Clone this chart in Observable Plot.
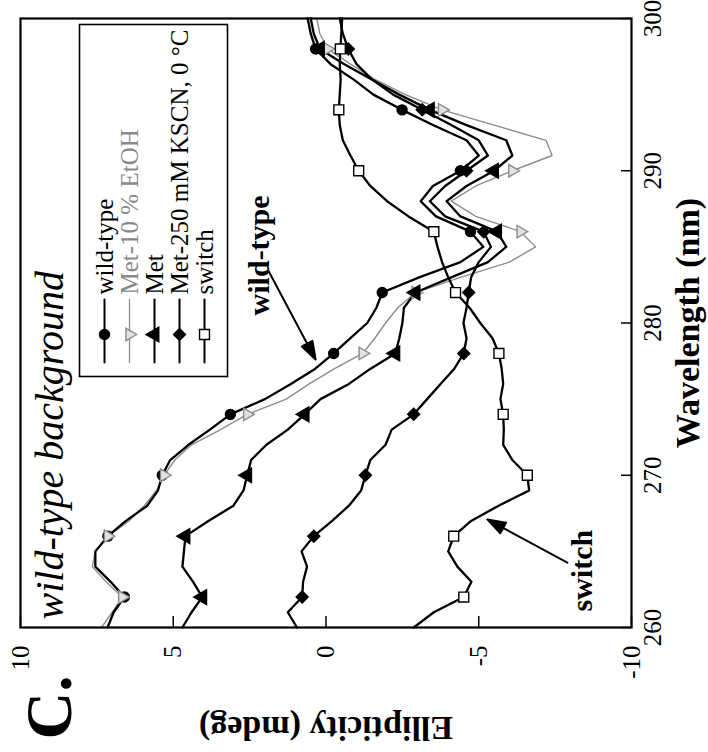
<!DOCTYPE html>
<html><head><meta charset="utf-8">
<script src="https://cdn.jsdelivr.net/npm/d3@7"></script>
<script src="https://cdn.jsdelivr.net/npm/@observablehq/plot@0.6"></script>
<style>
html,body{margin:0;padding:0;background:#fff;}
#wrap{position:relative;width:708px;height:752px;overflow:hidden;background:#fff;}
#wrap svg{position:absolute;left:0;top:0;max-width:none !important;transform-origin:0 0;transform:translate(0px,752px) rotate(-90deg);}
</style></head><body><div id="wrap"></div>
<script>
// ---- data (wavelength in nm, ellipticity in mdeg) ----
const wavelengths = [260,261,262,263,264,265,266,267,268,269,270,271,272,273,274,275,276,277,278,279,280,281,282,283,284,285,286,287,288,289,290,291,292,293,294,295,296,297,298,299,300];
const wildType   = [7.15,6.95,6.60,7.05,7.55,7.55,7.14,6.55,5.85,5.50,5.36,5.10,4.50,3.80,3.13,2.00,1.15,0.35,-0.25,-0.80,-1.35,-1.65,-1.84,-3.05,-4.40,-5.15,-4.73,-3.60,-3.10,-3.50,-4.40,-5.00,-4.60,-3.50,-2.49,-1.55,-0.90,-0.15,0.34,0.50,0.60];
const met10EtOH  = [7.35,7.00,6.67,7.20,7.65,7.55,7.14,6.45,5.95,5.55,5.30,4.95,4.40,3.45,2.58,1.30,0.55,-0.28,-1.20,-1.60,-1.95,-2.35,-2.93,-4.40,-6.00,-6.86,-6.37,-4.90,-4.10,-4.90,-6.10,-7.40,-7.20,-5.50,-3.80,-2.60,-1.60,-0.80,-0.05,0.20,0.30];
const met        = [4.70,4.40,4.05,4.35,4.70,4.65,4.60,3.85,3.03,2.70,2.58,2.45,1.95,1.25,0.70,0.18,-0.75,-1.46,-2.27,-2.40,-2.50,-2.55,-2.93,-4.10,-5.30,-5.90,-5.60,-4.40,-3.95,-4.60,-5.50,-6.10,-5.90,-4.60,-3.40,-2.40,-1.50,-0.60,0.20,0.40,0.50];
const met250KSCN = [0.95,1.25,0.78,0.75,0.62,0.80,0.40,-0.20,-0.75,-1.15,-1.29,-1.45,-1.95,-2.15,-2.87,-3.31,-3.75,-4.20,-4.51,-4.60,-4.50,-4.60,-4.67,-4.75,-5.00,-5.40,-5.16,-3.90,-3.40,-3.90,-4.60,-5.30,-5.00,-4.10,-3.15,-2.20,-1.50,-1.00,-0.73,-0.55,-0.45];
const switchMutant = [-2.87,-3.53,-4.51,-4.76,-4.30,-4.00,-4.18,-4.75,-5.65,-6.65,-6.59,-6.10,-5.80,-5.82,-5.80,-5.71,-5.80,-5.75,-5.66,-5.45,-5.05,-4.70,-4.24,-4.00,-3.80,-3.65,-3.53,-2.70,-2.00,-1.45,-1.07,-0.80,-0.55,-0.45,-0.42,-0.45,-0.48,-0.45,-0.47,-0.50,-0.53];
const seriesNames = ["wild-type", "Met-10 % EtOH", "Met", "Met-250 mM KSCN, 0 °C", "switch"];
const markerWavelengths = [262,266,270,274,278,282,286,290,294,298];
const xTicks = [260,270,280,290,300];
const yTicks = [-10,-5,0,5,10];
const annotationLabels = ["wild-type", "switch"];
const annotationTextWavelength = [280.5, 261.05];
const annotationTextEllipticity = [1.88, -8.72];
const annotationTipWavelength = [277.6, 267.1];
const annotationTipEllipticity = [0.34, -5.28];

// ---- styles ----
const seriesValues = [wildType, met10EtOH, met, met250KSCN, switchMutant];
const styles = [
  {stroke:"#000", sw:2.3, symbol:"circle",   fill:"#000", dotStroke:"#000", r:5,   rot:0,   text:"#000"},
  {stroke:"#8d8d8d", sw:1.4, symbol:"triangle", fill:"#e2e2e2", dotStroke:"#8d8d8d", r:4.6, rot:180, text:"#8a8a8a"},
  {stroke:"#000", sw:2.3, symbol:"triangle", fill:"#000", dotStroke:"#000", r:5.5, rot:0,   text:"#000"},
  {stroke:"#000", sw:2.3, symbol:"diamond2", fill:"#000", dotStroke:"#000", r:5.4, rot:0,   text:"#000"},
  {stroke:"#000", sw:2.3, symbol:"square",   fill:"#fff", dotStroke:"#000", r:5.6, rot:0,   text:"#000"}
];
const arrowGeom = [{rotate:-118, length:100}, {rotate:28.4, length:91}];
const serif = "'Liberation Serif', 'Times New Roman', serif";

const rowsOf = vals => wavelengths.map((w, i) => ({w, e: vals[i]}));
const lineShape = {draw(ctx, l) { ctx.moveTo(0, 0); ctx.lineTo(0, -l); }};
const arrowShape = {draw(ctx, l) {
  ctx.moveTo(0, 0); ctx.lineTo(0, -l + 12);
  ctx.moveTo(0, -l); ctx.lineTo(-6, -l + 18); ctx.lineTo(6, -l + 18); ctx.closePath();
}};

const marks = [];
// axes
marks.push(Plot.axisX(xTicks, {tickSize: -10, tickPadding: 22, tickFormat: d => String(d), fontSize: 25, fontFamily: serif, strokeWidth: 1.5, label: null}));
marks.push(Plot.axisY(yTicks, {tickSize: -12, tickPadding: 30, tickFormat: d => String(d), fontSize: 25, fontFamily: serif, strokeWidth: 1.5, label: null}));
// curves: gray first, then black
[1, 0, 2, 3, 4].forEach(i => {
  const s = styles[i];
  marks.push(Plot.line(rowsOf(seriesValues[i]), {x: "w", y: "e", stroke: s.stroke, strokeWidth: s.sw, strokeLinejoin: "round"}));
});
seriesValues.forEach((vals, i) => {
  const s = styles[i];
  marks.push(Plot.dot(rowsOf(vals).filter(d => markerWavelengths.includes(d.w)),
    {x: "w", y: "e", symbol: s.symbol, r: s.r, fill: s.fill, stroke: s.dotStroke, strokeWidth: 1.4, rotate: s.rot}));
});
// frame
marks.push(Plot.frame({stroke: "#000", strokeWidth: 2.2}));
// legend box and entries
marks.push(Plot.frame({stroke: "#000", strokeWidth: 1.6, insetLeft: 251, insetRight: 6, insetTop: 59, insetBottom: 404}));
seriesNames.forEach((name, i) => {
  const s = styles[i];
  const dy = 84 + 25 * i;
  marks.push(Plot.vector([name], {frameAnchor: "top-left", dx: 265, dy, length: 63, rotate: 90, anchor: "start", shape: lineShape, stroke: s.stroke, strokeWidth: i === 1 ? 1.3 : 2}));
  marks.push(Plot.dot([name], {frameAnchor: "top-left", dx: 293, dy, symbol: s.symbol, r: s.r, fill: s.fill, stroke: s.dotStroke, strokeWidth: 1.4, rotate: s.rot}));
  marks.push(Plot.text([name], {frameAnchor: "top-left", dx: 333, dy, text: d => d, textAnchor: "start", lineAnchor: "middle", fontSize: 25, fontFamily: serif, fill: s.text}));
});
// titles and labels
marks.push(Plot.text(["wild-type background"], {frameAnchor: "top-left", dx: 8, dy: 42, text: d => d, textAnchor: "start", lineAnchor: "bottom", fontSize: 40, fontStyle: "italic", fontFamily: serif}));
marks.push(Plot.text(["C."], {frameAnchor: "top-left", dx: -112, dy: 50, text: d => d, textAnchor: "start", lineAnchor: "bottom", fontSize: 66, fontWeight: "bold", fontFamily: serif}));
marks.push(Plot.text(["Wavelength (nm)"], {frameAnchor: "bottom", dy: 57, text: d => d, textAnchor: "middle", lineAnchor: "middle", fontSize: 34, fontWeight: "bold", fontFamily: serif}));
marks.push(Plot.text(["Ellipticity (mdeg)"], {frameAnchor: "left", dx: -100, rotate: -90, text: d => d, textAnchor: "middle", lineAnchor: "middle", fontSize: 34, fontWeight: "bold", fontFamily: serif}));
// annotations
annotationLabels.forEach((label, i) => {
  marks.push(Plot.text([label], {x: () => annotationTextWavelength[i], y: () => annotationTextEllipticity[i], text: d => d, textAnchor: "start", lineAnchor: "bottom", fontSize: 30, fontWeight: "bold", fontFamily: serif}));
  marks.push(Plot.vector([label], {x: () => annotationTipWavelength[i], y: () => annotationTipEllipticity[i], anchor: "end", length: arrowGeom[i].length, rotate: arrowGeom[i].rotate, shape: arrowShape, stroke: "#000", fill: "#000", strokeWidth: 2}));
});

const svg = Plot.plot({
  width: 752, height: 708,
  marginLeft: 124, marginRight: 19, marginTop: 20, marginBottom: 77,
  x: {domain: [260, 300]},
  y: {domain: [-10, 10]},
  style: {fontFamily: serif, fontSize: "25px", background: "white", color: "#000"},
  marks
});
svg.style.maxWidth = "none";
document.getElementById("wrap").appendChild(svg);
</script>
</body></html>
